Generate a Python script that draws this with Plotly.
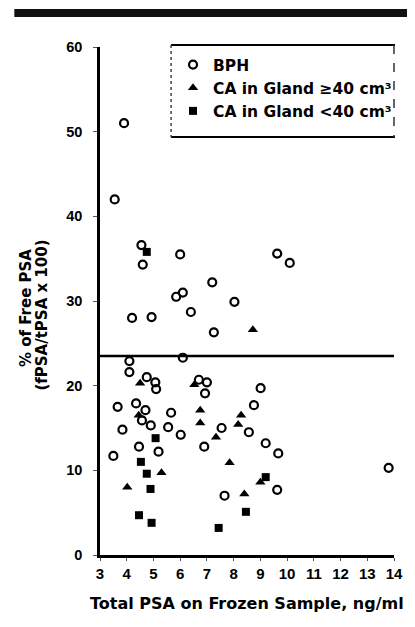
import plotly.graph_objects as go

# ---- data ----
bph_x = [3.9, 3.55, 4.55, 4.6, 6.0, 7.2, 5.85, 6.1, 4.2, 4.93, 6.4, 8.03, 7.26, 9.63, 10.1,
         4.1, 4.1, 6.1, 4.75, 5.07, 5.1, 6.7, 7.0, 6.93, 9.01, 3.66, 4.35, 4.7, 4.57, 4.9,
         5.66, 5.55, 6.02, 3.84, 4.46, 5.19, 3.5, 7.55, 6.9, 8.76, 8.57, 9.2, 9.67, 9.63,
         7.66, 13.8]
bph_y = [51.0, 42.0, 36.6, 34.3, 35.5, 32.2, 30.5, 31.0, 28.0, 28.1, 28.7, 29.9, 26.3, 35.6, 34.5,
         22.9, 21.6, 23.3, 21.0, 20.4, 19.6, 20.7, 20.4, 19.1, 19.7, 17.5, 17.9, 17.1, 15.9, 15.3,
         16.8, 15.1, 14.2, 14.8, 12.8, 12.2, 11.7, 15.0, 12.8, 17.7, 14.5, 13.2, 12.0, 7.7,
         7.0, 10.3]

ca_large_x = [8.72, 4.5, 6.53, 4.45, 6.75, 6.75, 7.34, 5.3, 4.02, 7.85, 8.28, 8.17, 8.4, 9.0]
ca_large_y = [26.6, 20.3, 20.1, 16.5, 17.1, 15.6, 13.9, 9.7, 8.0, 10.9, 16.5, 15.4, 7.2, 8.6]

ca_small_x = [4.75, 5.08, 4.53, 4.75, 4.89, 4.46, 4.93, 7.44, 8.46, 9.2]
ca_small_y = [35.8, 13.8, 11.0, 9.6, 7.8, 4.7, 3.8, 3.2, 5.1, 9.2]

cutoff = 23.5
x_ticks = list(range(3, 15))
y_ticks = [0, 10, 20, 30, 40, 50, 60]

series_names = ["BPH", "CA in Gland \u226540 cm\u00b3", "CA in Gland <40 cm\u00b3"]
y_title_lines = ["% of Free PSA", "(fPSA/tPSA x 100)"]
x_title = "Total PSA on Frozen Sample, ng/ml"

# ---- figure geometry (page pixels; the page body adds an 8px offset) ----
OFF = 8
PAGE_W, PAGE_H = 415, 627
W, H = PAGE_W - OFF, PAGE_H - OFF
PLOT_L, PLOT_R, PLOT_T, PLOT_B = 100, 402, 47, 555   # page coordinates of the plot area
ML, MT = PLOT_L - OFF, PLOT_T - OFF
MR, MB = W - (PLOT_R - OFF), H - (PLOT_B - OFF)
PW, PH = PLOT_R - PLOT_L, PLOT_B - PLOT_T


def px2paper_x(px):
    return (px - PLOT_L) / PW


def px2paper_y(py):
    return (PLOT_B - py) / PH


WIDE = "DejaVu Sans, Verdana, sans-serif"
NARROW = "Liberation Sans, Arial, sans-serif"

fig = go.Figure()
fig.add_trace(go.Scatter(
    x=bph_x, y=bph_y, mode="markers", name=series_names[0],
    marker=dict(symbol="circle-open", size=8, color="black", line=dict(width=2.2, color="black")),
    cliponaxis=False))
fig.add_trace(go.Scatter(
    x=ca_large_x, y=ca_large_y, mode="markers", name=series_names[1],
    marker=dict(symbol="triangle-up", size=9, color="black"),
    cliponaxis=False))
fig.add_trace(go.Scatter(
    x=ca_small_x, y=ca_small_y, mode="markers", name=series_names[2],
    marker=dict(symbol="square", size=8, color="black"),
    cliponaxis=False))

shapes = [
    # cutoff line
    dict(type="line", xref="x", yref="y", x0=x_ticks[0], x1=x_ticks[-1], y0=cutoff, y1=cutoff,
         line=dict(color="black", width=2.5)),
    # scan bar at top
    dict(type="rect", xref="paper", yref="paper",
         x0=px2paper_x(12), x1=px2paper_x(430), y0=px2paper_y(17), y1=px2paper_y(9),
         fillcolor="#111", line=dict(width=0)),
    # legend box
    dict(type="line", xref="paper", yref="paper",
         x0=px2paper_x(173), x1=px2paper_x(403), y0=px2paper_y(45), y1=px2paper_y(45),
         line=dict(color="black", width=2)),
    dict(type="line", xref="paper", yref="paper",
         x0=px2paper_x(173), x1=px2paper_x(403), y0=px2paper_y(137), y1=px2paper_y(137),
         line=dict(color="black", width=2)),
    dict(type="line", xref="paper", yref="paper",
         x0=px2paper_x(173), x1=px2paper_x(173), y0=px2paper_y(45), y1=px2paper_y(137),
         line=dict(color="#444", width=1.5, dash="dot")),
    dict(type="line", xref="paper", yref="paper",
         x0=px2paper_x(402), x1=px2paper_x(402), y0=px2paper_y(45), y1=px2paper_y(137),
         line=dict(color="#333", width=1.5, dash="dash")),
]

annotations = [
    dict(text=y_title_lines[0], xref="paper", yref="paper",
         x=px2paper_x(24), y=px2paper_y(308), textangle=-90, showarrow=False,
         xanchor="center", yanchor="middle",
         font=dict(size=15, color="black", family=WIDE, weight="bold")),
    dict(text=y_title_lines[1], xref="paper", yref="paper",
         x=px2paper_x(40), y=px2paper_y(315), textangle=-90, showarrow=False,
         xanchor="center", yanchor="middle",
         font=dict(size=15, color="black", family=WIDE, weight="bold")),
    dict(text=x_title, xref="paper", yref="paper",
         x=px2paper_x(88), y=px2paper_y(603), showarrow=False,
         xanchor="left", yanchor="middle",
         font=dict(size=16, color="black", family=WIDE, weight="bold")),
]

fig.update_layout(
    width=W, height=H,
    margin=dict(l=ML, r=MR, t=MT, b=MB, pad=0),
    paper_bgcolor="white", plot_bgcolor="white",
    font=dict(family=NARROW, size=15, color="black", weight="bold"),
    showlegend=True,
    legend=dict(x=px2paper_x(175), y=px2paper_y(48), xanchor="left", yanchor="top",
                bgcolor="rgba(0,0,0,0)", borderwidth=0,
                font=dict(size=15.5, family=WIDE, weight="bold"),
                itemsizing="trace", tracegroupgap=0),
    shapes=shapes,
    annotations=annotations,
)
fig.update_xaxes(range=[x_ticks[0], x_ticks[-1]], tickmode="array", tickvals=x_ticks,
                 showgrid=False, zeroline=False, showline=True, linecolor="black", linewidth=2.5,
                 ticks="outside", ticklen=3, tickwidth=1, tickcolor="#555",
                 tickfont=dict(size=15), ticklabelstandoff=0)
fig.update_yaxes(range=[y_ticks[0], y_ticks[-1]], tickmode="array", tickvals=y_ticks,
                 showgrid=False, zeroline=False, showline=True, linecolor="black", linewidth=2.5,
                 ticks="outside", ticklen=4, tickwidth=1, tickcolor="#555",
                 tickfont=dict(size=14.5), ticklabelstandoff=8)

fig.write_html("out.html")
